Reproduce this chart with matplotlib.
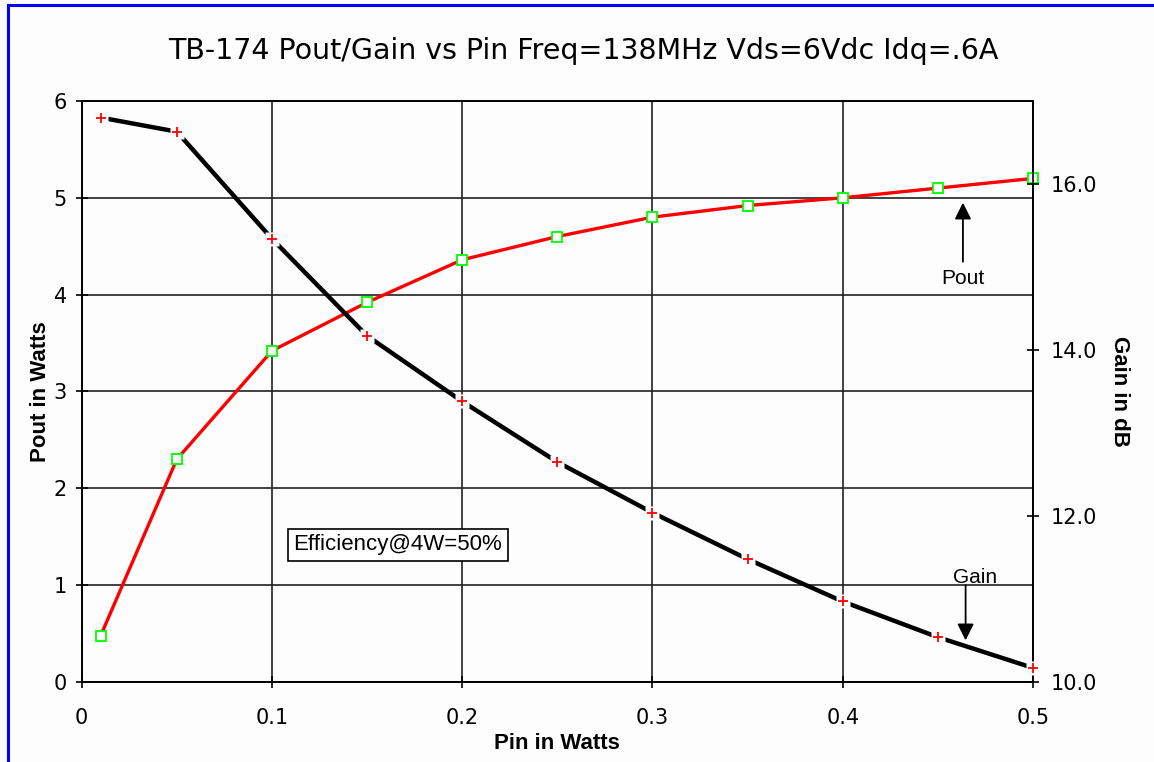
import matplotlib
matplotlib.use('Agg')
import matplotlib.pyplot as plt
from matplotlib.lines import Line2D

# data
pin = [0.01, 0.05, 0.10, 0.15, 0.20, 0.25, 0.30, 0.35, 0.40, 0.45, 0.50]
pout = [0.48, 2.30, 3.42, 3.92, 4.36, 4.60, 4.80, 4.92, 5.00, 5.10, 5.20]
gain = [16.80, 16.63, 15.34, 14.17, 13.38, 12.65, 12.04, 11.48, 10.97, 10.54, 10.17]

x_ticks = [0, 0.1, 0.2, 0.3, 0.4, 0.5]
x_labels = ['0', '0.1', '0.2', '0.3', '0.4', '0.5']
pout_ticks = [0, 1, 2, 3, 4, 5, 6]
gain_ticks = [10, 12, 14, 16]
gain_labels = ['10.0', '12.0', '14.0', '16.0']

narrow = ['Liberation Sans Narrow', 'DejaVu Sans']
plt.rcParams['font.family'] = ['Liberation Sans', 'DejaVu Sans']

fig = plt.figure(figsize=(11.54, 7.62), dpi=100)
fig.patch.set_facecolor('#fdfdfd')
ax = fig.add_axes([0.0708, 0.105, 0.8243, 0.7625])
ax2 = ax.twinx()

# Pout curve (left axis)
ax.plot(pin, pout, color='red', lw=2.4, zorder=3, clip_on=False)
ax.plot(pin, pout, ls='none', marker='s', ms=7, mfc='white', mec='#00ff00',
        mew=1.3, zorder=4, clip_on=False)

# Gain curve (right axis), with small breaks around the markers
ax2.plot(pin, gain, color='black', lw=3.2, zorder=3, clip_on=False)
ax2.plot(pin, gain, ls='none', marker='s', ms=10, mfc='#fdfdfd', mec='none',
         zorder=4, clip_on=False)
ax2.plot(pin, gain, ls='none', marker='+', ms=7, mec='red', mew=1.3,
         zorder=5, clip_on=False)

ax.set_xlim(0, 0.5)
ax.set_ylim(0, 6)
ax2.set_ylim(10, 17)
ax.set_xticks(x_ticks)
ax.set_xticklabels(x_labels, family=narrow, fontsize=15)
ax.set_yticks(pout_ticks)
ax.set_yticklabels([str(t) for t in pout_ticks], family=narrow, fontsize=15)
ax2.set_yticks(gain_ticks)
ax2.set_yticklabels(gain_labels, family=narrow, fontsize=15)

ax.grid(True, color='#222222', lw=1.2)
ax.set_axisbelow(True)
ax.set_facecolor('#fdfdfd')
for a in (ax, ax2):
    for s in a.spines.values():
        s.set_linewidth(1.2)
ax.tick_params(axis='both', direction='inout', length=9, width=1.2, pad=6)
ax2.tick_params(axis='y', direction='inout', length=9, width=1.2, pad=8)
ax.tick_params(axis='x', pad=14)

ax.set_xlabel('Pin in Watts', fontsize=16, fontweight='bold', labelpad=4)
ax.set_ylabel('Pout in Watts', fontsize=16, fontweight='bold', labelpad=2)
ax2.set_ylabel('Gain in dB', fontsize=16, fontweight='bold', rotation=-90,
               labelpad=24)

ax.set_title('TB-174 Pout/Gain vs Pin Freq=138MHz Vds=6Vdc Idq=.6A',
             family=narrow, fontsize=20.5, pad=30, x=0.527)

# annotations
ax.annotate('', xy=(0.4632, 4.95), xytext=(0.4632, 4.34),
            arrowprops=dict(arrowstyle='-|>', color='black', lw=1.3,
                            mutation_scale=25, shrinkA=0, shrinkB=0))
ax.text(0.4632, 4.17, 'Pout', ha='center', va='center', fontsize=15)
ax.annotate('', xy=(0.4646, 0.43), xytext=(0.4646, 1.0),
            arrowprops=dict(arrowstyle='-|>', color='black', lw=1.3,
                            mutation_scale=25, shrinkA=0, shrinkB=0), zorder=6)
ax.text(0.4695, 1.08, 'Gain', ha='center', va='center', fontsize=15)
ax.text(0.1662, 1.415, 'Efficiency@4W=50%', ha='center', va='center',
        fontsize=16, zorder=6,
        bbox=dict(facecolor='white', edgecolor='black', lw=1.2, pad=4))

# blue frame on left and top
fig.add_artist(Line2D([8 / 1154, 8 / 1154], [0, 1 - 5 / 762], color='#0000ff',
                      lw=2.2, transform=fig.transFigure))
fig.add_artist(Line2D([8 / 1154, 1], [1 - 5 / 762, 1 - 5 / 762], color='#0000ff',
                      lw=2.2, transform=fig.transFigure))

fig.savefig('out.png', dpi=100, facecolor=fig.get_facecolor())
